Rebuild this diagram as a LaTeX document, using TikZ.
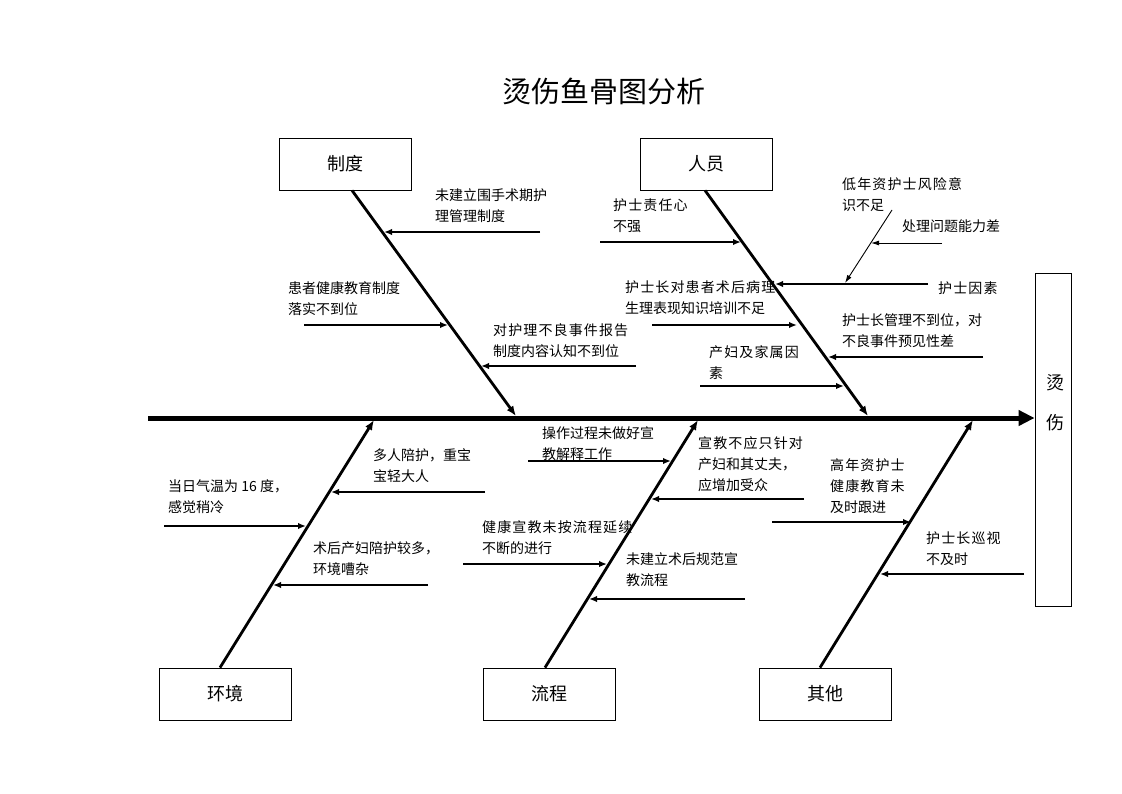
\documentclass[tikz,border=0pt]{standalone}
\usepackage{fontspec}
\setmainfont{Noto Sans CJK SC}
\usetikzlibrary{arrows.meta}
\newcommand\wsp[1]{{\addfontfeature{LetterSpace=8}#1}}
\begin{document}
\begin{tikzpicture}[x=1pt,y=-1pt,
  box/.style={draw,line width=0.8pt,minimum width=132pt,minimum height=52pt,inner sep=0pt,font=\fontsize{18}{20}\selectfont},
  lbl/.style={anchor=west,align=left,inner sep=0pt,font=\fontsize{14}{21}\selectfont},
  spine/.style={line width=5pt,-{Triangle[length=16pt,width=15pt]}},
  bone/.style={line width=2.8pt,-{Latex[length=10pt,width=8pt]}},
  sub/.style={line width=1.8pt,-{Latex[length=8pt,width=6.5pt]}},
  thinarr/.style={line width=0.9pt,-{Latex[length=8pt,width=5pt]}}]
\useasboundingbox (0,0) rectangle (1122,793);
% title
\node[font=\fontsize{29}{30}\selectfont] (title) at (604,91) {烫伤鱼骨图分析};
% boxes
\node[box] (zd) at (345,164) {制度};
\node[box] (ry) at (706,164) {人员};
\node[box] (hj) at (225,694) {环境};
\node[box] (lc) at (549,694) {流程};
\node[box] (qt) at (825,694) {其他};
\node[draw,line width=0.8pt,minimum width=36pt,minimum height=333pt,inner sep=0pt] (burn) at (1053,439.5) {};
\node[align=center,inner sep=0pt,font=\fontsize{18}{40}\selectfont] (burntxt) at (1055,403) {烫\\伤};
% spine
\coordinate (s0) at (148,418);
\draw[spine] (s0) -- (burn.west |- s0);
% bone ends
\coordinate (jzd) at (516,416);
\coordinate (jry) at (868,416);
\coordinate (jhj) at (374,420);
\coordinate (jlc) at (698,420);
\coordinate (jqt) at (973,420);
\draw[bone] ([xshift=7pt]zd.south) -- (jzd);
\draw[bone] ([xshift=-1pt]ry.south) -- (jry);
\draw[bone] ([xshift=-5pt]hj.north) -- (jhj);
\draw[bone] ([xshift=-4pt]lc.north) -- (jlc);
\draw[bone] ([xshift=-5pt]qt.north) -- (jqt);
% labels
\node[lbl] (t1) at (435,205.5) {未建立围手术期护\\理管理制度};
\node[lbl] (t2) at (288,299) {患者健康教育制度\\落实不到位};
\node[lbl] (t3) at (493,340.5) {\wsp{对护理不良事件报告}\\制度内容认知不到位};
\node[lbl] (t4) at (613,216) {\wsp{护士责任心}\\不强};
\node[lbl] (t5) at (842,194.5) {\wsp{低年资护士风险意}\\识不足};
\node[lbl] (t6) at (902,226) {处理问题能力差};
\node[lbl] (t7) at (938,288) {\wsp{护士因素}};
\node[lbl] (t8) at (625,298) {\wsp{护士长对患者术后病理}\\生理表现知识培训不足};
\node[lbl] (t9) at (842,330.5) {护士长管理不到位，对\\不良事件预见性差};
\node[lbl] (t10) at (709,362.5) {\wsp{产妇及家属因}\\素};
\node[lbl] (t11) at (373,466) {多人陪护，重宝\\宝轻大人};
\node[lbl] (t12) at (168,497) {当日气温为 16 度，\\感觉稍冷};
\node[lbl] (t13) at (313,558.5) {术后产妇陪护较多，\\环境嘈杂};
\node[lbl] (t14) at (542,443.5) {操作过程未做好宣\\教解释工作};
\node[lbl] (t15) at (698,464.5) {\wsp{宣教不应只针对}\\产妇和其丈夫，\\应增加受众};
\node[lbl] (t16) at (482,538) {\wsp{健康宣教未按流程延续}\\不断的进行};
\node[lbl] (t17) at (626,570) {未建立术后规范宣\\教流程};
\node[lbl] (t18) at (830,486.5) {\wsp{高年资护士}\\\wsp{健康教育未}\\及时跟进};
\node[lbl] (t19) at (926,548.5) {\wsp{护士长巡视}\\不及时};
% sub-cause arrows
\coordinate (a1s) at (540,232); \coordinate (a1e) at (384,232);
\coordinate (a2s) at (304,325); \coordinate (a2e) at (448,325);
\coordinate (a3s) at (636,366); \coordinate (a3e) at (481,366);
\coordinate (b1s) at (600,242); \coordinate (b1e) at (741,242);
\coordinate (b2s) at (892,210); \coordinate (b2e) at (845,283);
\coordinate (b3s) at (942,243); \coordinate (b3e) at (871,243);
\coordinate (b4s) at (928,284); \coordinate (b4e) at (775,284);
\coordinate (b5s) at (652,325); \coordinate (b5e) at (797,325);
\coordinate (b6s) at (983,357); \coordinate (b6e) at (828,357);
\coordinate (b7s) at (700,386); \coordinate (b7e) at (844,386);
\coordinate (c1s) at (485,492); \coordinate (c1e) at (331,492);
\coordinate (c2s) at (164,526); \coordinate (c2e) at (306,526);
\coordinate (c3s) at (428,585); \coordinate (c3e) at (273,585);
\coordinate (d1s) at (528,461); \coordinate (d1e) at (671,461);
\coordinate (d2s) at (804,499); \coordinate (d2e) at (651,499);
\coordinate (d3s) at (463,564); \coordinate (d3e) at (607,564);
\coordinate (d4s) at (745,599); \coordinate (d4e) at (589,599);
\coordinate (e1s) at (772,522); \coordinate (e1e) at (911,522);
\coordinate (e2s) at (1024,574); \coordinate (e2e) at (880,574);
\foreach \a in {a1,a2,a3,b1,b4,b5,b6,b7,c1,c2,c3,d1,d2,d3,d4,e1,e2}
  {\draw[sub] (\a s) -- (\a e);}
\draw[thinarr] (b2s) -- (b2e);
\draw[thinarr] (b3s) -- (b3e);
\end{tikzpicture}
\end{document}
